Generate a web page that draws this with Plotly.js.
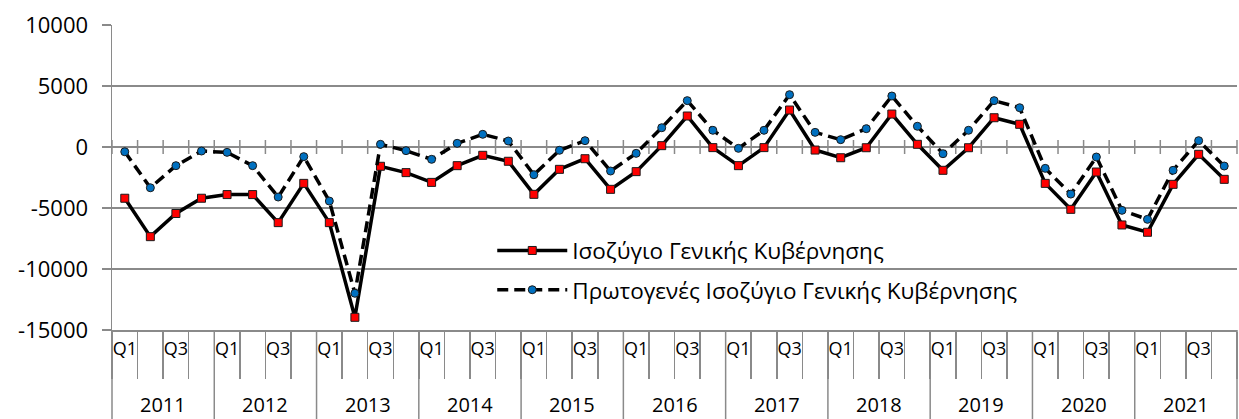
<!DOCTYPE html>
<html>
<head>
<meta charset="utf-8">
<script src="https://cdn.plot.ly/plotly-3.0.1.min.js"></script>
<style>html,body{margin:0;padding:0;background:#fff;}#chart{width:1239px;height:419px;}</style>
</head>
<body>
<div id="chart"></div>
<script>
var years = ['2011','2012','2013','2014','2015','2016','2017','2018','2019','2020','2021'];
var quarters = ['Q1','Q2','Q3','Q4'];
var quarterLabels = ['Q1', '', 'Q3', ''];
var seriesNames = ['Ισοζύγιο Γενικής Κυβέρνησης', 'Πρωτογενές Ισοζύγιο Γενικής Κυβέρνησης'];
var balance = [-4200,-7350,-5450,-4200, -3900,-3900,-6200,-2980, -6200,-13960,-1580,-2100,
               -2900,-1530,-680,-1170, -3880,-1830,-960,-3470, -2020,110,2540,-50,
               -1530,-50,3030,-250, -880,-60,2700,220, -1910,-60,2400,1860,
               -2980,-5110,-2050,-6390, -6990,-3060,-600,-2650];
var primary = [-390,-3340,-1530,-330, -440,-1530,-4100,-790, -4430,-11990,220,-300,
               -1010,300,1040,490, -2270,-270,520,-1970, -520,1580,3800,1370,
               -110,1370,4290,1200, 600,1500,4180,1700, -550,1370,3800,3220,
               -1750,-3860,-820,-5190, -5930,-1910,520,-1560];
var yTicks = [-15000,-10000,-5000,0,5000,10000];
var yTickLabels = ['-15000','-10000','-5000','0','5000','10000'];

var cats = [], catText = [];
years.forEach(function(y){ quarters.forEach(function(q, j){ cats.push(y + ' ' + q); catText.push(quarterLabels[j]); }); });

var FONT = 'Open Sans, Noto Sans, sans-serif';
var GRID = '#8a8a8a';

var traces = [
  {x:cats, y:balance, name:seriesNames[0], type:'scatter', mode:'lines+markers', legendgroup:'a',
   line:{color:'#000000', width:3.5},
   marker:{symbol:'square', size:8, color:'#ff0000', line:{color:'#1a1a1a', width:1}}},
  {x:cats, y:primary, name:seriesNames[1], type:'scatter', mode:'lines+markers', legendgroup:'b',
   line:{color:'#000000', width:3.5, dash:'11px,6px'},
   marker:{symbol:'circle', size:8, color:'#0070c0', line:{color:'#1a1a1a', width:1}}}
];

var nCat = cats.length;
var nQ = quarters.length;
var plotH = 419 - 25 - 89;
var shapes = [], annotations = [];
for (var k = 0; k <= nCat; k++) {
  shapes.push({type:'line', layer:'below', xref:'paper', yref:'y', ysizemode:'pixel', yanchor:0,
    x0:k/nCat, x1:k/nCat, y0:-7, y1:7, line:{color:GRID, width:1.5}});
}
for (var i = 0; i <= years.length; i++) {
  shapes.push({type:'line', layer:'above', xref:'paper', yref:'paper',
    x0:i*nQ/nCat, x1:i*nQ/nCat, y0:0, y1:-89/plotH, line:{color:GRID, width:1.5}});
}
years.forEach(function(y, i){
  annotations.push({text:y, xref:'paper', yref:'paper', x:(i*nQ + nQ/2)/nCat, y:-74.5/plotH,
    xanchor:'center', yanchor:'middle', showarrow:false, font:{family:FONT, size:20, color:'#000'}});
});

var layout = {
  width:1239, height:419,
  margin:{l:112, r:2, t:25, b:89, pad:0},
  paper_bgcolor:'#ffffff', plot_bgcolor:'#ffffff',
  font:{family:FONT, color:'#000000'},
  showlegend:true,
  legend:{x:0.338, y:0.33, xanchor:'left', yanchor:'top', bgcolor:'rgba(0,0,0,0)',
    font:{family:FONT, size:22.5, color:'#000'}, itemwidth:70, tracegroupgap:7},
  xaxis:{type:'category', range:[-0.5, nCat-0.5], autorange:false, showline:true, linecolor:GRID, linewidth:1.5,
    tickmode:'array', tickvals:cats, ticktext:catText, tickson:'boundaries',
    ticks:'outside', ticklen:47, tickcolor:GRID, tickwidth:1.5, showgrid:false, tickangle:0,
    tickfont:{family:FONT, size:18, color:'#000'}, ticklabelstandoff:2, zeroline:false},
  yaxis:{range:[-15000,10000], tickmode:'array', tickvals:yTicks, ticktext:yTickLabels, showgrid:true, gridcolor:GRID, gridwidth:1.5,
    zeroline:false, showline:true, linecolor:GRID, linewidth:1.5,
    ticks:'outside', ticklen:9, tickcolor:GRID, tickwidth:1.5,
    tickfont:{family:FONT, size:22, color:'#000'}, ticklabelstandoff:9},
  shapes:shapes,
  annotations:annotations
};

Plotly.newPlot('chart', traces, layout, {displayModeBar:false, staticPlot:true});
</script>
</body>
</html>
